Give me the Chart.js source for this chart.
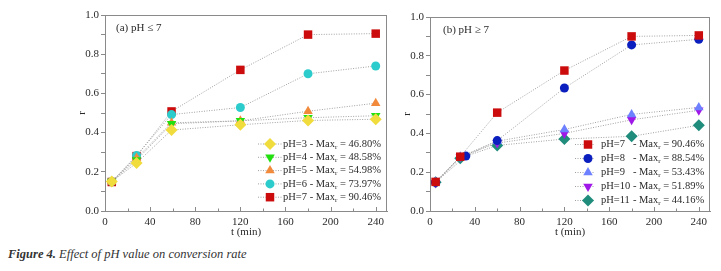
<!DOCTYPE html>
<html>
<head>
<meta charset="utf-8">
<script src="https://cdn.jsdelivr.net/npm/chart.js@4"></script>
<style>
  body { margin: 0; background: #fff; width: 721px; height: 271px; position: relative; overflow: hidden; }
  .box { position: absolute; top: 0; height: 245px; }
  #boxA { left: 40px; width: 355px; }
  #boxB { left: 395px; width: 326px; }
  #caption { position: absolute; left: 8px; top: 247px; font: italic 12.5px "Liberation Serif", serif; color: #333; }
  #caption b { font-weight: bold; }
</style>
</head>
<body>
<div class="box" id="boxA"><canvas id="chartA"></canvas></div>
<div class="box" id="boxB"><canvas id="chartB"></canvas></div>
<div id="caption"><b>Figure 4.</b> Effect of pH value on conversion rate</div>
<script>
// 데이터
const timeA = [6, 28, 59, 120, 180, 240];
const pH3 = [0.150, 0.245, 0.413, 0.440, 0.462, 0.468];
const pH4 = [0.150, 0.260, 0.445, 0.460, 0.476, 0.486];
const pH5 = [0.150, 0.270, 0.450, 0.460, 0.509, 0.550];
const pH6 = [0.150, 0.283, 0.492, 0.528, 0.700, 0.740];
const pH7a = [0.148, 0.280, 0.508, 0.720, 0.900, 0.905];

const timeB = [5, 27, 60, 120, 180, 240];
const timeB8 = [5, 32, 60, 120, 180, 240];
const pH7b = [0.150, 0.280, 0.507, 0.724, 0.900, 0.905];
const pH8 = [0.148, 0.283, 0.363, 0.634, 0.856, 0.885];
const pH9 = [0.150, 0.280, 0.360, 0.420, 0.498, 0.534];
const pH10 = [0.145, 0.280, 0.350, 0.400, 0.470, 0.519];
const pH11 = [0.148, 0.272, 0.338, 0.371, 0.385, 0.442];

const labelsA = ['pH=3', 'pH=4', 'pH=5', 'pH=6', 'pH=7'];
const maxA = ['46.80%', '48.58%', '54.98%', '73.97%', '90.46%'];
const labelsB = ['pH=7', 'pH=8', 'pH=9', 'pH=10', 'pH=11'];
const maxB = ['90.46%', '88.54%', '53.43%', '51.89%', '44.16%'];

const xTicks = [0, 40, 80, 120, 160, 200, 240];
const yTicks = [0.0, 0.2, 0.4, 0.6, 0.8, 1.0];

const SERIF = '"Liberation Serif", "Times New Roman", serif';
const GRAY = '#8a8a8a';
const TXT = '#2a2a2a';

function series(label, times, vals, color, style, radius, rotation) {
    return {
        label: label,
        data: times.map((t, i) => ({ x: t, y: vals[i] })),
        borderColor: '#a0a0a0',
        borderWidth: 1,
        borderDash: [1, 1.5],
        pointStyle: style,
        pointRadius: radius,
        pointRotation: rotation || 0,
        pointBackgroundColor: color,
        pointBorderColor: color,
        pointBorderWidth: 0,
        tension: 0,
        fill: false
    };
}

// 프레임, 안쪽 x 눈금, 패널 제목, 범례
const decor = {
    id: 'decor',
    afterDraw(chart) {
        const ctx = chart.ctx;
        const a = chart.chartArea;
        const o = chart.options.plugins.decor;
        ctx.save();
        ctx.strokeStyle = GRAY;
        ctx.lineWidth = 1;
        ctx.strokeRect(a.left + 0.5, a.top + 0.5, a.right - a.left - 1, a.bottom - a.top);
        // x 눈금 (안쪽)
        const xs = chart.scales.x;
        for (let v = 0; v <= 240; v += 20) {
            const px = Math.round(xs.getPixelForValue(v)) + 0.5;
            const len = v % 40 === 0 ? 4 : 2.5;
            ctx.beginPath();
            ctx.moveTo(px, a.bottom);
            ctx.lineTo(px, a.bottom - len);
            ctx.stroke();
        }
        // 패널 제목
        ctx.fillStyle = TXT;
        ctx.font = '11px ' + SERIF;
        ctx.textBaseline = 'middle';
        ctx.fillText(o.title, a.left + o.titleDx, a.top + 13);
        // 범례
        ctx.font = '10.5px ' + SERIF;
        const dashX = o.textX + Math.max(...o.names.map(n => ctx.measureText(n + ' ').width));
        const ds = chart.data.datasets;
        ds.forEach((d, i) => {
            const y = o.legendY + i * o.legendStep;
            ctx.strokeStyle = '#a0a0a0';
            ctx.setLineDash([1, 1.5]);
            ctx.beginPath();
            ctx.moveTo(o.lineX0, y);
            ctx.lineTo(o.lineX1, y);
            ctx.stroke();
            ctx.setLineDash([]);
            ctx.fillStyle = d.pointBackgroundColor;
            Chart.helpers.drawPoint(ctx, {
                pointStyle: d.pointStyle,
                radius: d.pointRadius,
                rotation: d.pointRotation,
                borderWidth: 0
            }, o.markX, y);
            ctx.fillStyle = TXT;
            ctx.font = '10.5px ' + SERIF;
            ctx.textBaseline = 'middle';
            ctx.fillText(o.names[i], o.textX, y);
            let x = dashX;
            const t1 = '- Max';
            ctx.fillText(t1, x, y);
            x += ctx.measureText(t1).width;
            ctx.font = '7px ' + SERIF;
            ctx.fillText('r', x, y + 3);
            x += ctx.measureText('r').width;
            ctx.font = '10.5px ' + SERIF;
            ctx.fillText(' = ' + o.max[i], x, y);
        });
        ctx.restore();
    }
};

function makeOptions(padLeft, padTop, padRight, yWidth, deco) {
    return {
        responsive: true,
        maintainAspectRatio: false,
        animation: false,
        layout: { padding: { left: padLeft, top: padTop, right: padRight, bottom: 6 } },
        plugins: {
            legend: { display: false },
            tooltip: { enabled: false },
            decor: deco
        },
        scales: {
            x: {
                type: 'linear',
                min: 0,
                max: 250,
                afterBuildTicks: s => { s.ticks = xTicks.map(v => ({ value: v })); },
                afterFit: s => { s.height = 28; },
                grid: { display: false, drawTicks: false },
                border: { color: GRAY },
                ticks: { color: TXT, padding: 5, font: { family: SERIF, size: 11 } },
                title: { display: true, text: 't (min)', color: TXT, padding: 0, font: { family: SERIF, size: 11 } }
            },
            y: {
                min: 0,
                max: 1,
                afterBuildTicks: s => {
                    const t = [];
                    for (let i = 0; i <= 10; i++) t.push({ value: i / 10 });
                    s.ticks = t;
                },
                afterFit: s => { s.width = yWidth; },
                grid: { drawOnChartArea: false, drawTicks: true, tickLength: 4, color: GRAY },
                border: { color: GRAY },
                ticks: {
                    color: TXT,
                    padding: 2,
                    autoSkip: false,
                    font: { family: SERIF, size: 11 },
                    callback: v => {
                        const k = Math.round(v * 10);
                        return k % 2 === 0 ? yTicks[k / 2].toFixed(1) : '';
                    }
                },
                title: { display: true, text: 'r', color: TXT, padding: 0, font: { family: SERIF, size: 11 } }
            }
        }
    };
}

new Chart(document.getElementById('chartA'), {
    type: 'line',
    data: {
        datasets: [
            series(labelsA[0], timeA, pH3, '#f0dc3c', 'rectRot', 6),
            series(labelsA[1], timeA, pH4, '#22e010', 'triangle', 5.5, 180),
            series(labelsA[2], timeA, pH5, '#f28a3c', 'triangle', 5.5),
            series(labelsA[3], timeA, pH6, '#2ccccc', 'circle', 4.5),
            series(labelsA[4], timeA, pH7a, '#cc0c0c', 'rect', 6)
        ]
    },
    options: makeOptions(36, 15, 8, 29, {
        title: '(a) pH \u2264 7', titleDx: 11,
        names: labelsA, max: maxA,
        legendY: 144, legendStep: 13.3,
        lineX0: 218, lineX1: 242, markX: 230, textX: 243
    }),
    plugins: [decor]
});

new Chart(document.getElementById('chartB'), {
    type: 'line',
    data: {
        datasets: [
            series(labelsB[0], timeB, pH7b, '#cc0c0c', 'rect', 6),
            series(labelsB[1], timeB8, pH8, '#0a1fbe', 'circle', 4.5),
            series(labelsB[2], timeB, pH9, '#6d80ff', 'triangle', 5.5),
            series(labelsB[3], timeB, pH10, '#a018e8', 'triangle', 5.5, 180),
            series(labelsB[4], timeB, pH11, '#1f8c7c', 'rectRot', 6)
        ]
    },
    options: makeOptions(6, 17, 11, 29, {
        title: '(b) pH \u2265 7', titleDx: 13,
        names: labelsB, max: maxB,
        legendY: 144.5, legendStep: 14,
        lineX0: 180, lineX1: 200, markX: 193, textX: 206
    }),
    plugins: [decor]
});
</script>
</body>
</html>
